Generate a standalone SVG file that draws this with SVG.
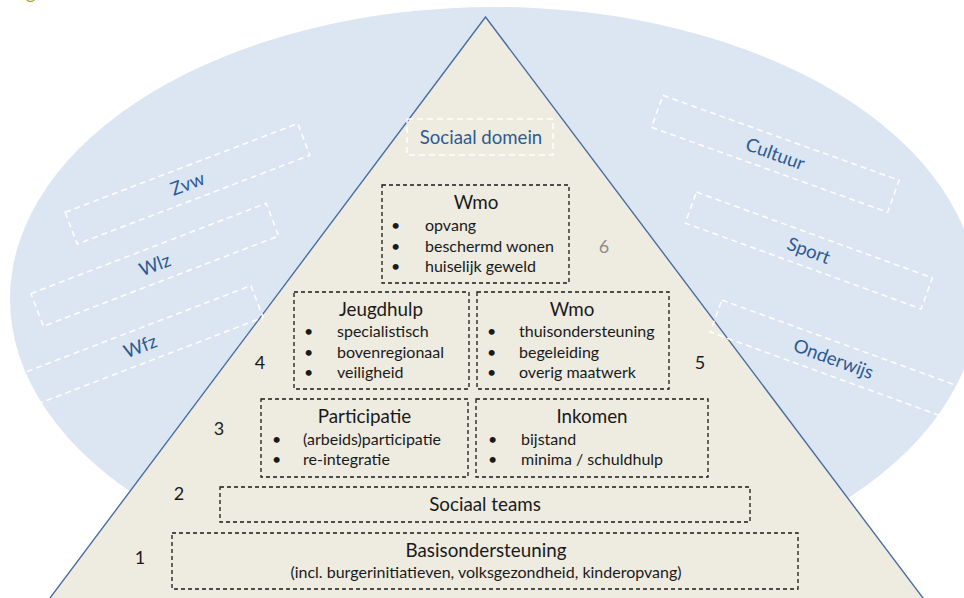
<svg xmlns="http://www.w3.org/2000/svg" width="964" height="598" viewBox="0 0 964 598">
  <style>
    .box { fill: none; stroke: #1a1a1a; stroke-width: 1.3; stroke-dasharray: 4 3; }
    .wbox { fill: none; stroke: #ffffff; stroke-width: 1.5; stroke-dasharray: 6 4; }
    text { font-family: Lato, "Liberation Sans", "DejaVu Sans", sans-serif; fill: #1a1a1a; }
    .title { font-size: 18.8px; text-anchor: middle; }
    .item { font-size: 16px; }
    .num { font-size: 18px; text-anchor: middle; }
    .lbl { font-size: 18.6px; fill: #2c5a94; text-anchor: middle; }
  </style>

  <rect width="964" height="598" fill="#ffffff"/>

  <!-- caption descender cut off at the top edge -->
  <text x="26" y="-1.5" style="font-size:18px;fill:#a6a512;font-family:Lato, 'Liberation Sans', sans-serif">g</text>

  <!-- outer domain ellipse -->
  <ellipse id="domain" cx="494" cy="299" rx="484" ry="292" fill="#dce5f2"/>

  <!-- social domain pyramid -->
  <polygon id="pyramid" points="485.5,17 41,610 932,610" fill="#eeebe1" stroke="#4a6ea3" stroke-width="1.4" stroke-linejoin="miter"/>

  <!-- neighbouring domains, left -->
  <g id="zvw" transform="translate(187.5,183.8) rotate(-20.9)">
    <rect class="wbox" x="-124.5" y="-17" width="249" height="34"/>
    <text class="lbl" x="0" y="6.5">Zvw</text>
  </g>
  <g id="wlz" transform="translate(154.8,264.8) rotate(-21)">
    <rect class="wbox" x="-126" y="-17.5" width="252" height="35"/>
    <text class="lbl" x="0" y="6.5">Wlz</text>
  </g>
  <g id="wfz" transform="translate(140.3,346.3) rotate(-21)">
    <rect class="wbox" x="-125" y="-17" width="250" height="34"/>
    <text class="lbl" x="0" y="6.5">Wfz</text>
  </g>

  <!-- neighbouring domains, right -->
  <g id="cultuur" transform="translate(775.3,153.8) rotate(19.8)">
    <rect class="wbox" x="-125.5" y="-17" width="251" height="34"/>
    <text class="lbl" x="0" y="6.5">Cultuur</text>
  </g>
  <g id="sport" transform="translate(808.8,250.5) rotate(20)">
    <rect class="wbox" x="-125.5" y="-16.5" width="251" height="33"/>
    <text class="lbl" x="0" y="6.5">Sport</text>
  </g>
  <g id="onderwijs" transform="translate(833.5,358.8) rotate(20)">
    <rect class="wbox" x="-125" y="-17" width="250" height="34"/>
    <text class="lbl" x="0" y="6.5">Onderwijs</text>
  </g>

  <!-- pyramid heading -->
  <g id="sociaal-domein">
    <rect class="wbox" x="407" y="119" width="146" height="36"/>
    <text class="lbl" x="481" y="143.5">Sociaal domein</text>
  </g>

  <!-- level 6 -->
  <g id="wmo-6">
    <rect class="box" x="382" y="185" width="187" height="98"/>
    <text class="title" x="476" y="209">Wmo</text>
    <text class="item" x="391" y="231">•</text>
    <text class="item" x="425" y="231">opvang</text>
    <text class="item" x="391" y="252">•</text>
    <text class="item" x="425" y="252">beschermd wonen</text>
    <text class="item" x="391" y="272">•</text>
    <text class="item" x="425" y="272">huiselijk geweld</text>
  </g>
  <text id="n6" class="num" x="604" y="253" style="fill:#8c8c8c">6</text>

  <!-- level 4 / 5 -->
  <g id="jeugdhulp">
    <rect class="box" x="294" y="292" width="175" height="97"/>
    <text class="title" x="381" y="316">Jeugdhulp</text>
    <text class="item" x="304" y="337">•</text>
    <text class="item" x="337" y="337">specialistisch</text>
    <text class="item" x="304" y="358">•</text>
    <text class="item" x="337" y="358">bovenregionaal</text>
    <text class="item" x="304" y="377.5">•</text>
    <text class="item" x="337" y="377.5">veiligheid</text>
  </g>
  <g id="wmo-5">
    <rect class="box" x="477" y="292" width="192" height="97"/>
    <text class="title" x="572" y="316">Wmo</text>
    <text class="item" x="487" y="337">•</text>
    <text class="item" x="519" y="337">thuisondersteuning</text>
    <text class="item" x="487" y="358">•</text>
    <text class="item" x="519" y="358">begeleiding</text>
    <text class="item" x="487" y="377.5">•</text>
    <text class="item" x="519" y="377.5">overig maatwerk</text>
  </g>
  <text id="n4" class="num" x="260" y="369">4</text>
  <text id="n5" class="num" x="700" y="369">5</text>

  <!-- level 3 -->
  <g id="participatie">
    <rect class="box" x="261" y="399" width="207" height="78"/>
    <text class="title" x="364.5" y="423">Participatie</text>
    <text class="item" x="272" y="445">•</text>
    <text class="item" x="303" y="445">(arbeids)participatie</text>
    <text class="item" x="272" y="465">•</text>
    <text class="item" x="303" y="465">re-integratie</text>
  </g>
  <g id="inkomen">
    <rect class="box" x="476" y="399" width="232" height="78"/>
    <text class="title" x="592" y="423">Inkomen</text>
    <text class="item" x="488" y="445">•</text>
    <text class="item" x="521" y="445">bijstand</text>
    <text class="item" x="488" y="465">•</text>
    <text class="item" x="521" y="465">minima / schuldhulp</text>
  </g>
  <text id="n3" class="num" x="219" y="435">3</text>

  <!-- level 2 -->
  <g id="sociaal-teams">
    <rect class="box" x="220" y="487" width="530" height="35"/>
    <text class="title" x="485" y="511">Sociaal teams</text>
  </g>
  <text id="n2" class="num" x="179" y="500">2</text>

  <!-- level 1 -->
  <g id="basisondersteuning">
    <rect class="box" x="172" y="533" width="626" height="56"/>
    <text class="title" x="486" y="557">Basisondersteuning</text>
    <text class="item" x="486" y="578" style="text-anchor:middle">(incl. burgerinitiatieven, volksgezondheid, kinderopvang)</text>
  </g>
  <text id="n1" class="num" x="140" y="564">1</text>
</svg>
